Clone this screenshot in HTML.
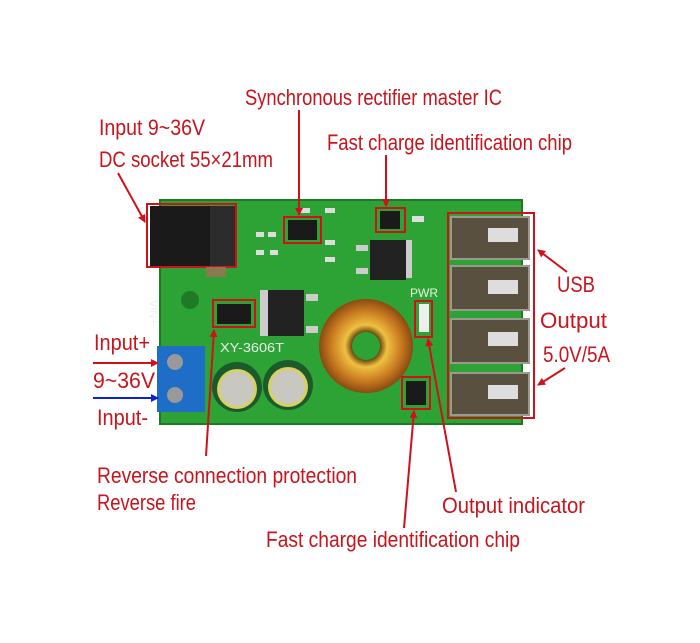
<!DOCTYPE html>
<html><head><meta charset="utf-8"><style>
html,body{margin:0;padding:0;background:#fff;}
svg{display:block}
text{font-family:"Liberation Sans Narrow","Liberation Sans",sans-serif;fill:#c8141c;}
</style></head><body>
<svg width="700" height="643" viewBox="0 0 700 643" xmlns="http://www.w3.org/2000/svg">
<defs>
<marker id="ar" markerWidth="8" markerHeight="8" refX="7" refY="4" orient="auto" markerUnits="userSpaceOnUse"><path d="M0,0 L8,4 L0,8 z" fill="#d0101a"/></marker>
<marker id="ab" markerWidth="8" markerHeight="8" refX="7" refY="4" orient="auto" markerUnits="userSpaceOnUse"><path d="M0,0 L8,4 L0,8 z" fill="#1020d0"/></marker>
<radialGradient id="coil" cx="50%" cy="50%" r="50%"><stop offset="0.3" stop-color="#6a4a10"/><stop offset="0.45" stop-color="#f0c040"/><stop offset="0.75" stop-color="#c87a20"/><stop offset="1" stop-color="#8a4a10"/></radialGradient>
</defs>
<rect x="160" y="200" width="362" height="224" fill="#2ea335"/>
<rect x="160" y="200" width="362" height="224" fill="none" stroke="#1e7a22" stroke-width="2"/>
<rect x="150" y="206" width="86" height="60" fill="#1a1a1a"/>
<rect x="210" y="206" width="26" height="60" fill="#2c2c2c"/>
<rect x="147" y="204" width="89" height="63" fill="none" stroke="#d0101a" stroke-width="2"/>
<rect x="206" y="267" width="20" height="10" fill="#8a7a50"/>
<circle cx="190" cy="300" r="9" fill="#1f7a25"/>
<rect x="288" y="220" width="29" height="20" fill="#1a1a1a"/>
<rect x="284" y="217" width="37" height="26" fill="none" stroke="#d0101a" stroke-width="2"/>
<g fill="#ddd"><rect x="256" y="232" width="8" height="5"/><rect x="268" y="232" width="8" height="5"/><rect x="256" y="250" width="8" height="5"/><rect x="270" y="250" width="8" height="5"/><rect x="325" y="240" width="10" height="5"/><rect x="325" y="257" width="10" height="5"/><rect x="300" y="208" width="10" height="5"/><rect x="325" y="208" width="10" height="5"/></g>
<rect x="380" y="211" width="20" height="18" fill="#1a1a1a"/>
<rect x="376" y="208" width="29" height="24" fill="none" stroke="#d0101a" stroke-width="2"/>
<rect x="412" y="216" width="12" height="6" fill="#ddd"/>
<rect x="370" y="240" width="42" height="38" fill="#ccc"/>
<rect x="370" y="240" width="36" height="40" fill="#222"/>
<rect x="356" y="245" width="12" height="6" fill="#ccc"/><rect x="356" y="268" width="12" height="6" fill="#ccc"/>
<rect x="260" y="290" width="20" height="46" fill="#ccc"/>
<rect x="268" y="290" width="36" height="46" fill="#222"/>
<rect x="306" y="294" width="12" height="7" fill="#ccc"/><rect x="306" y="326" width="12" height="7" fill="#ccc"/>
<rect x="217" y="304" width="34" height="20" fill="#1a1a1a"/>
<rect x="213" y="300" width="42" height="27" fill="none" stroke="#d0101a" stroke-width="2"/>
<text x="220" y="352" style="fill:#e8f0e8" font-size="13" textLength="64" lengthAdjust="spacingAndGlyphs">XY-3606T</text>
<text x="170" y="320" style="fill:#e8f0e8" font-size="11" transform="rotate(90 170 300)">VIN+</text>
<circle cx="366" cy="346" r="47" fill="url(#coil)"/>
<circle cx="366" cy="346" r="14" fill="#2ea335"/>
<text x="410" y="297" style="fill:#e8f0e8" font-size="12">PWR</text>
<rect x="419" y="304" width="10" height="28" fill="#eee"/>
<rect x="415" y="301" width="17" height="36" fill="none" stroke="#d0101a" stroke-width="2"/>
<rect x="406" y="381" width="20" height="24" fill="#1a1a1a"/>
<rect x="402" y="377" width="28" height="32" fill="none" stroke="#d0101a" stroke-width="2"/>
<circle cx="237" cy="387" r="25" fill="#1b5a2a"/><circle cx="237" cy="389" r="20" fill="#d8d060"/><circle cx="237" cy="389" r="17" fill="#c8c8c0"/>
<circle cx="288" cy="385" r="25" fill="#1b5a2a"/><circle cx="288" cy="387" r="20" fill="#d8d060"/><circle cx="288" cy="387" r="17" fill="#c8c8c0"/>
<rect x="157" y="346" width="48" height="66" fill="#1e6ec8"/>
<circle cx="175" cy="362" r="8" fill="#999"/><circle cx="175" cy="395" r="8" fill="#999"/>
<g fill="#5a5040" stroke="#9a9a90" stroke-width="2">
<rect x="451" y="217" width="78" height="42"/><rect x="451" y="266" width="78" height="44"/><rect x="451" y="319" width="78" height="44"/><rect x="451" y="373" width="78" height="42"/>
</g>
<g fill="#ddd"><rect x="488" y="228" width="30" height="14"/><rect x="488" y="280" width="30" height="14"/><rect x="488" y="332" width="30" height="14"/><rect x="488" y="385" width="30" height="14"/></g>
<rect x="448" y="213" width="86" height="205" fill="none" stroke="#d0101a" stroke-width="2"/>
<g font-size="22">
<text x="245" y="105" textLength="257" lengthAdjust="spacingAndGlyphs">Synchronous rectifier master IC</text>
<text x="99" y="135" textLength="106" lengthAdjust="spacingAndGlyphs">Input 9~36V</text>
<text x="99" y="167" textLength="174" lengthAdjust="spacingAndGlyphs">DC socket 55×21mm</text>
<text x="327" y="150" textLength="245" lengthAdjust="spacingAndGlyphs">Fast charge identification chip</text>
<text x="557" y="292" textLength="38" lengthAdjust="spacingAndGlyphs">USB</text>
<text x="540" y="328" textLength="67" lengthAdjust="spacingAndGlyphs">Output</text>
<text x="543" y="362" textLength="67" lengthAdjust="spacingAndGlyphs">5.0V/5A</text>
<text x="94" y="350" textLength="56" lengthAdjust="spacingAndGlyphs">Input+</text>
<text x="93" y="388" textLength="62" lengthAdjust="spacingAndGlyphs">9~36V</text>
<text x="97" y="425" textLength="51" lengthAdjust="spacingAndGlyphs">Input-</text>
<text x="97" y="483" textLength="260" lengthAdjust="spacingAndGlyphs">Reverse connection protection</text>
<text x="97" y="510" textLength="99" lengthAdjust="spacingAndGlyphs">Reverse fire</text>
<text x="442" y="513" textLength="143" lengthAdjust="spacingAndGlyphs">Output indicator</text>
<text x="266" y="547" textLength="254" lengthAdjust="spacingAndGlyphs">Fast charge identification chip</text>
</g>
<g stroke="#d0101a" stroke-width="2" fill="none">
<line x1="118" y1="173" x2="145" y2="222" marker-end="url(#ar)"/>
<line x1="299" y1="110" x2="299" y2="215" marker-end="url(#ar)"/>
<line x1="386" y1="155" x2="386" y2="206" marker-end="url(#ar)"/>
<line x1="567" y1="272" x2="538" y2="250" marker-end="url(#ar)"/>
<line x1="565" y1="368" x2="538" y2="385" marker-end="url(#ar)"/>
<line x1="93" y1="363" x2="158" y2="363" marker-end="url(#ar)"/>
<line x1="206" y1="456" x2="214" y2="330" marker-end="url(#ar)"/>
<line x1="404" y1="528" x2="414" y2="411" marker-end="url(#ar)"/>
<line x1="456" y1="492" x2="428" y2="339" marker-end="url(#ar)"/>
</g>
<line x1="93" y1="398" x2="158" y2="398" stroke="#1020d0" stroke-width="2" marker-end="url(#ab)"/>
</svg>
</body></html>
